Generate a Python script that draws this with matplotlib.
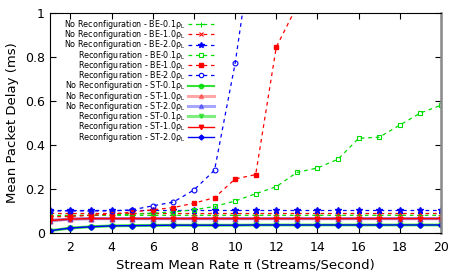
import matplotlib
matplotlib.use("Agg")
import matplotlib.pyplot as plt

# stream mean rate
x = [1, 2, 3, 4, 5, 6, 7, 8, 9, 10, 11, 12, 13, 14, 15, 16, 17, 18, 19, 20]

# best effort, no reconfiguration
nr_be01 = [0.079, 0.080, 0.080, 0.080, 0.080, 0.080, 0.080, 0.080, 0.080, 0.080,
           0.080, 0.080, 0.080, 0.080, 0.080, 0.080, 0.080, 0.080, 0.080, 0.080]
nr_be10 = [0.090, 0.090, 0.090, 0.090, 0.090, 0.090, 0.090, 0.090, 0.090, 0.090,
           0.090, 0.090, 0.090, 0.090, 0.090, 0.090, 0.090, 0.090, 0.090, 0.090]
nr_be20 = [0.105, 0.105, 0.105, 0.105, 0.105, 0.105, 0.105, 0.105, 0.105, 0.105,
           0.105, 0.105, 0.105, 0.105, 0.105, 0.105, 0.105, 0.105, 0.105, 0.105]

# best effort, reconfiguration
r_be01 = [0.075, 0.078, 0.080, 0.082, 0.085, 0.090, 0.095, 0.105, 0.120, 0.145,
          0.178, 0.210, 0.275, 0.295, 0.335, 0.430, 0.435, 0.490, 0.545, 0.580]
x_be10 = [1, 2, 3, 4, 5, 6, 7, 8, 9, 10, 11, 12, 13]
r_be10 = [0.073, 0.075, 0.080, 0.085, 0.095, 0.105, 0.115, 0.135, 0.160, 0.245,
          0.265, 0.845, 1.03]
x_be20 = [1, 2, 3, 4, 5, 6, 7, 8, 9, 10, 11]
r_be20 = [0.100, 0.100, 0.100, 0.100, 0.105, 0.123, 0.140, 0.195, 0.285, 0.770, 1.41]

# scheduled traffic
st_low = [0.010, 0.022, 0.028, 0.032, 0.033, 0.034, 0.035, 0.035, 0.035, 0.035,
          0.036, 0.036, 0.036, 0.036, 0.036, 0.036, 0.036, 0.036, 0.036, 0.036]
st_high = [0.056, 0.063, 0.065, 0.065, 0.065, 0.065, 0.065, 0.065, 0.065, 0.065,
           0.065, 0.065, 0.065, 0.065, 0.065, 0.065, 0.065, 0.065, 0.065, 0.065]

G = "#00dd00"
R = "#ff0000"
B = "#0000ff"
dash = (0, (3, 3))
rho = "ρ$_\\mathregular{L}$"

fig = plt.figure(figsize=(4.57, 2.74), dpi=100)
ax = fig.add_axes([0.109, 0.150, 0.856, 0.803])

ax.plot(x, nr_be01, color=G, ls=dash, lw=0.9, marker="+", ms=4, mew=0.8, label="No Reconfiguration - BE-0.1" + rho)
ax.plot(x, nr_be10, color=R, ls=dash, lw=0.9, marker="x", ms=3.5, mew=0.8, label="No Reconfiguration - BE-1.0" + rho)
ax.plot(x, nr_be20, color=B, ls=dash, lw=0.9, marker="*", ms=4.5, label="No Reconfiguration - BE-2.0" + rho)
ax.plot(x, r_be01, color=G, ls=dash, lw=0.9, marker="s", ms=3.5, mfc="none", mew=0.8, label="Reconfiguration - BE-0.1" + rho)
ax.plot(x_be10, r_be10, color=R, ls=dash, lw=0.9, marker="s", ms=3.5, label="Reconfiguration - BE-1.0" + rho)
ax.plot(x_be20, r_be20, color=B, ls=dash, lw=0.9, marker="o", ms=3.5, mfc="none", mew=0.8, label="Reconfiguration - BE-2.0" + rho)
ax.plot(x, st_low, color=G, lw=1.5, alpha=0.8, marker="o", ms=3.5, label="No Reconfiguration - ST-0.1" + rho)
ax.plot(x, st_high, color=R, lw=2.2, alpha=0.35, marker="^", ms=3.5, label="No Reconfiguration - ST-1.0" + rho)
ax.plot(x, st_high, color=B, lw=2.2, alpha=0.35, marker="^", ms=3.5, label="No Reconfiguration - ST-2.0" + rho)
ax.plot(x, st_low, color=G, lw=2.2, alpha=0.5, marker="v", ms=3.5, label="Reconfiguration - ST-0.1" + rho)
ax.plot(x, st_high, color=R, lw=1.0, marker="v", ms=3.5, label="Reconfiguration - ST-1.0" + rho)
ax.plot(x, st_low, color=B, lw=1.0, marker="D", ms=2.8, label="Reconfiguration - ST-2.0" + rho)

ax.set_xlim(1, 20)
ax.set_ylim(0, 1)
ax.set_xticks([2, 4, 6, 8, 10, 12, 14, 16, 18, 20])
ax.set_yticks([0, 0.2, 0.4, 0.6, 0.8, 1])
ax.set_yticklabels(["0", "0.2", "0.4", "0.6", "0.8", "1"])
ax.tick_params(direction="in", top=True, right=True, labelsize=9, length=4, width=0.8)
ax.tick_params(axis="x", pad=6)
ax.spines["right"].set_color("#888888")
ax.spines["right"].set_linewidth(1.8)
ax.set_xlabel("Stream Mean Rate π (Streams/Second)", fontsize=9.5, labelpad=3)
ax.set_ylabel("Mean Packet Delay (ms)", fontsize=9.5, labelpad=4)

ax.legend(loc="upper right", bbox_to_anchor=(0.468, 0.935), bbox_transform=fig.transFigure,
          frameon=False, markerfirst=False, fontsize=5.8, labelspacing=-0.34,
          handlelength=3.2, handletextpad=0.3, borderpad=0, borderaxespad=0,
          markerscale=0.9)

plt.savefig("out.png", dpi=100)
